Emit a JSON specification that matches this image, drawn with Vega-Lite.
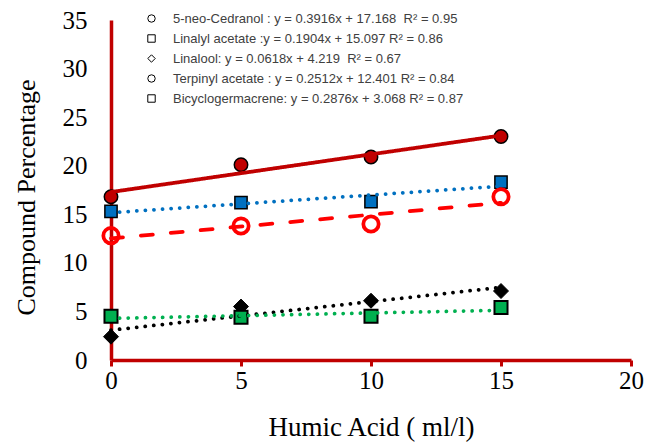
{
  "$schema": "https://vega.github.io/schema/vega-lite/v6.json",
  "width": 520,
  "height": 340,
  "autosize": "none",
  "padding": {"left": 111, "top": 20, "right": 26, "bottom": 86},
  "background": "white",
  "config": {"view": {"stroke": null}, "axis": {"grid": false}},
  "data": {
    "values": [
      {"series": "Cedranol", "x": 0, "y": 16.8},
      {"series": "Cedranol", "x": 5, "y": 20.1},
      {"series": "Cedranol", "x": 10, "y": 20.9},
      {"series": "Cedranol", "x": 15, "y": 23.0},
      {"series": "Linalyl", "x": 0, "y": 15.3},
      {"series": "Linalyl", "x": 5, "y": 16.2},
      {"series": "Linalyl", "x": 10, "y": 16.3},
      {"series": "Linalyl", "x": 15, "y": 18.3},
      {"series": "Linalool", "x": 0, "y": 2.4},
      {"series": "Linalool", "x": 5, "y": 5.5},
      {"series": "Linalool", "x": 10, "y": 6.1},
      {"series": "Linalool", "x": 15, "y": 7.1},
      {"series": "Terpinyl", "x": 0, "y": 12.8},
      {"series": "Terpinyl", "x": 5, "y": 13.8},
      {"series": "Terpinyl", "x": 10, "y": 14.0},
      {"series": "Terpinyl", "x": 15, "y": 16.8},
      {"series": "Bicyclo", "x": 0, "y": 4.5},
      {"series": "Bicyclo", "x": 5, "y": 4.4},
      {"series": "Bicyclo", "x": 10, "y": 4.5},
      {"series": "Bicyclo", "x": 15, "y": 5.4}
    ]
  },
  "layer": [
    {
      "mark": {"type": "point", "opacity": 0, "filled": true},
      "encoding": {
        "x": {"field": "x", "type": "quantitative"},
        "y": {"field": "y", "type": "quantitative"},
        "shape": {
          "field": "series", "type": "nominal",
          "scale": {
            "domain": ["Cedranol", "Linalyl", "Linalool", "Terpinyl", "Bicyclo"],
            "range": ["circle", "square", "diamond", "circle", "square"]
          }
        },
        "fill": {
          "field": "series", "type": "nominal",
          "scale": {
            "domain": ["Cedranol", "Linalyl", "Linalool", "Terpinyl", "Bicyclo"],
            "range": ["#000000", "#000000", "#000000", "#FFFFFF", "#FFFFFF"]
          },
          "legend": {
            "orient": "none", "legendX": 34, "legendY": -8, "title": null,
            "padding": 0, "rowPadding": 6,
            "labelFont": "Liberation Sans", "labelFontSize": 13, "labelColor": "#404040",
            "labelOffset": 15, "symbolSize": 55, "symbolOpacity": 1, "symbolStrokeWidth": 1,
            "labelLimit": 500,
            "labelExpr": "datum.value == 'Cedranol' ? '5-neo-Cedranol : y = 0.3916x + 17.168\u00a0 R² = 0.95' : datum.value == 'Linalyl' ? 'Linalyl acetate :y = 0.1904x + 15.097 R² = 0.86' : datum.value == 'Linalool' ? 'Linalool: y = 0.0618x + 4.219\u00a0 R² = 0.67' : datum.value == 'Terpinyl' ? 'Terpinyl acetate : y = 0.2512x + 12.401 R² = 0.84' : 'Bicyclogermacrene: y = 0.2876x + 3.068 R² = 0.87'"
          }
        },
        "stroke": {
          "field": "series", "type": "nominal",
          "scale": {
            "domain": ["Cedranol", "Linalyl", "Linalool", "Terpinyl", "Bicyclo"],
            "range": ["#000000", "#000000", "#000000", "#000000", "#000000"]
          }
        }
      }
    },
    {
      "mark": {"type": "point", "opacity": 1},
      "encoding": {
        "x": {
          "field": "x", "type": "quantitative",
          "scale": {"domain": [0, 20]},
          "axis": {
            "title": "Humic Acid ( ml/l)", "values": [0, 5, 10, 15, 20],
            "domainColor": "#C00000", "domainWidth": 3.5,
            "tickColor": "#C00000", "tickWidth": 3, "tickSize": 6,
            "labelFont": "Liberation Serif", "labelFontSize": 25, "labelColor": "black",
            "labelPadding": 2, "labelFlush": false, "labelOverlap": false,
            "titleFont": "Liberation Serif", "titleFontSize": 27, "titleFontWeight": "normal",
            "titleColor": "black", "titlePadding": 21
          }
        },
        "y": {
          "field": "y", "type": "quantitative",
          "scale": {"domain": [0, 35]},
          "axis": {
            "title": "Compound Percentage", "values": [0, 5, 10, 15, 20, 25, 30, 35],
            "domainColor": "#C00000", "domainWidth": 3.5,
            "ticks": false, "tickSize": 0,
            "labelFont": "Liberation Serif", "labelFontSize": 25, "labelColor": "black",
            "labelPadding": 24, "labelFlush": false, "labelOverlap": false,
            "titleFont": "Liberation Serif", "titleFontSize": 26, "titleFontWeight": "normal",
            "titleColor": "black", "titleX": -85, "titleY": 177, "titleBaseline": "middle", "titleAngle": -90
          }
        },
        "shape": {
          "field": "series", "type": "nominal",
          "scale": {
            "domain": ["Cedranol", "Linalyl", "Linalool", "Terpinyl", "Bicyclo"],
            "range": ["circle", "square", "diamond", "circle", "square"]
          }
        },
        "fill": {
          "condition": [
            {"test": "datum.series == 'Cedranol'", "value": "#C00000"},
            {"test": "datum.series == 'Linalyl'", "value": "#0070C0"},
            {"test": "datum.series == 'Linalool'", "value": "#000000"},
            {"test": "datum.series == 'Terpinyl'", "value": "transparent"}
          ],
          "value": "#00B050"
        },
        "stroke": {
          "condition": [
            {"test": "datum.series == 'Terpinyl'", "value": "#FF0000"}
          ],
          "value": "#000000"
        },
        "size": {
          "condition": [
            {"test": "datum.series == 'Cedranol'", "value": 180},
            {"test": "datum.series == 'Linalyl'", "value": 150},
            {"test": "datum.series == 'Linalool'", "value": 225},
            {"test": "datum.series == 'Terpinyl'", "value": 235}
          ],
          "value": 170
        },
        "strokeWidth": {
          "condition": [
            {"test": "datum.series == 'Terpinyl'", "value": 3.75},
            {"test": "datum.series == 'Bicyclo'", "value": 2},
            {"test": "datum.series == 'Linalool'", "value": 1}
          ],
          "value": 1.5
        }
      }
    },
    {
      "transform": [{"regression": "y", "on": "x", "groupby": ["series"]}],
      "mark": {"type": "line", "strokeWidth": 3.75, "strokeCap": "round"},
      "encoding": {
        "x": {"field": "x", "type": "quantitative"},
        "y": {"field": "y", "type": "quantitative"},
        "detail": {"field": "series", "type": "nominal"},
        "color": {
          "condition": [
            {"test": "datum.series == 'Cedranol'", "value": "#C00000"},
            {"test": "datum.series == 'Linalyl'", "value": "#0070C0"},
            {"test": "datum.series == 'Linalool'", "value": "#000000"},
            {"test": "datum.series == 'Terpinyl'", "value": "#FF0000"}
          ],
          "value": "#00B050"
        },
        "strokeDash": {
          "condition": [
            {"test": "datum.series == 'Cedranol'", "value": [1, 0]},
            {"test": "datum.series == 'Terpinyl'", "value": [12, 18]}
          ],
          "value": [0.1, 8.5]
        }
      }
    }
  ]
}
